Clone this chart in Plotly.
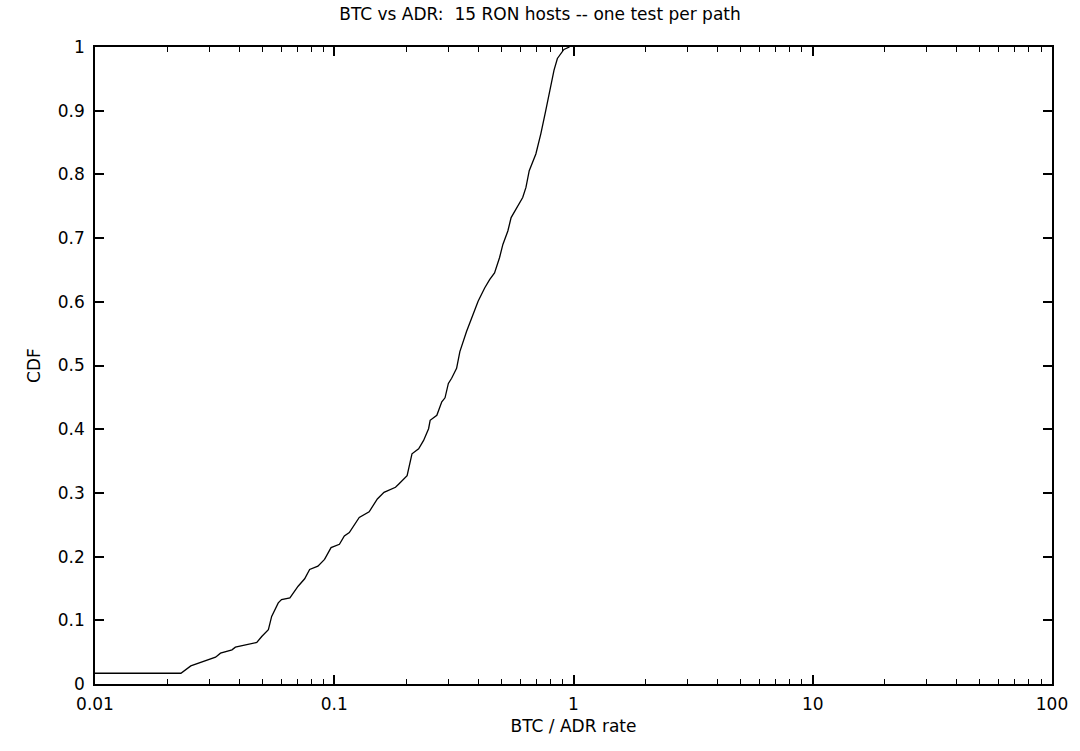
import plotly.graph_objects as go

title_text = "BTC vs ADR:  15 RON hosts -- one test per path"
x_title = "BTC / ADR rate"
y_title = "CDF"

ratio = [0.01, 0.02286, 0.02514, 0.02808, 0.03191, 0.03346, 0.03738, 0.03861, 0.04248,
         0.04745, 0.04976, 0.05305, 0.05475, 0.05834, 0.06021, 0.06525, 0.07063, 0.07522,
         0.07891, 0.08546, 0.09109, 0.09698, 0.1051, 0.1102, 0.1156, 0.1272, 0.1399,
         0.1514, 0.1614, 0.1803, 0.1862, 0.2016, 0.2113, 0.2253, 0.2363, 0.2479, 0.2517,
         0.2684, 0.2815, 0.2904, 0.2999, 0.3095, 0.3246, 0.335, 0.3572, 0.3807, 0.3993,
         0.4253, 0.4461, 0.4677, 0.4906, 0.5068, 0.5316, 0.5486, 0.5847, 0.6133, 0.6328,
         0.6531, 0.6961, 0.7301, 0.7659, 0.7905, 0.8166, 0.8291, 0.8564, 0.8922, 0.9118,
         0.9625]
cdf = [0.0169, 0.0169, 0.0284, 0.0352, 0.0421, 0.0484, 0.0537, 0.0579, 0.0615,
       0.0652, 0.0746, 0.0852, 0.1062, 0.1273, 0.1326, 0.1352, 0.1535, 0.1652,
       0.1799, 0.1851, 0.1957, 0.2141, 0.2193, 0.2324, 0.2378, 0.2615, 0.2703,
       0.2904, 0.3009, 0.3088, 0.314, 0.3271, 0.3614, 0.3693, 0.3824, 0.4008, 0.4139,
       0.4218, 0.443, 0.4493, 0.4718, 0.48, 0.4955, 0.5219, 0.5534, 0.5823, 0.6008,
       0.6217, 0.6348, 0.6454, 0.6691, 0.6901, 0.7112, 0.7322, 0.7507, 0.7638, 0.7796,
       0.8059, 0.8321, 0.8637, 0.9006, 0.9268, 0.9479, 0.9637, 0.982, 0.9926, 0.9962,
       1.0]

x_tickvals = [0.01, 0.1, 1, 10, 100]
x_ticktext = ["0.01", "0.1", "1", "10", "100"]
y_tickvals = [0, 0.1, 0.2, 0.3, 0.4, 0.5, 0.6, 0.7, 0.8, 0.9, 1]
y_ticktext = ["0", "0.1", "0.2", "0.3", "0.4", "0.5", "0.6", "0.7", "0.8", "0.9", "1"]

FONT = "DejaVu Sans, Liberation Sans, Arial, sans-serif"
FS = 17

fig = go.Figure()
fig.add_trace(go.Scatter(x=ratio, y=cdf, mode="lines",
                         line=dict(color="black", width=1.3),
                         showlegend=False, hoverinfo="skip"))

fig.update_layout(
    width=1080, height=751,
    margin=dict(l=95, r=19, t=47, b=67),
    paper_bgcolor="white", plot_bgcolor="white",
    font=dict(family=FONT, size=FS, color="black"),
    title=dict(text=title_text, x=0.5, xanchor="center", y=1 - 14 / 751, yanchor="middle",
               font=dict(family=FONT, size=FS, color="black")),
    showlegend=False,
)

fig.update_xaxes(
    type="log", range=[-2, 2],
    tickvals=x_tickvals, ticktext=x_ticktext,
    ticks="inside", ticklen=9, tickwidth=1.5, tickcolor="black",
    minor=dict(ticks="inside", ticklen=5, tickwidth=1.2, tickcolor="black",
               dtick="D1", showgrid=False),
    showline=True, linecolor="black", linewidth=1.5, mirror="allticks",
    showgrid=False, zeroline=False,
    ticklabelstandoff=4,
    tickfont=dict(family=FONT, size=FS, color="black"),
    title=dict(text=x_title, standoff=7, font=dict(family=FONT, size=FS, color="black")),
)
fig.update_yaxes(
    range=[0, 1],
    tickvals=y_tickvals, ticktext=y_ticktext,
    ticks="inside", ticklen=9, tickwidth=1.5, tickcolor="black",
    showline=True, linecolor="black", linewidth=1.5, mirror="allticks",
    showgrid=False, zeroline=False,
    ticklabelstandoff=5,
    tickfont=dict(family=FONT, size=FS, color="black"),
    title=dict(text=y_title, standoff=13, font=dict(family=FONT, size=FS, color="black")),
)

fig.write_html("out.html")
